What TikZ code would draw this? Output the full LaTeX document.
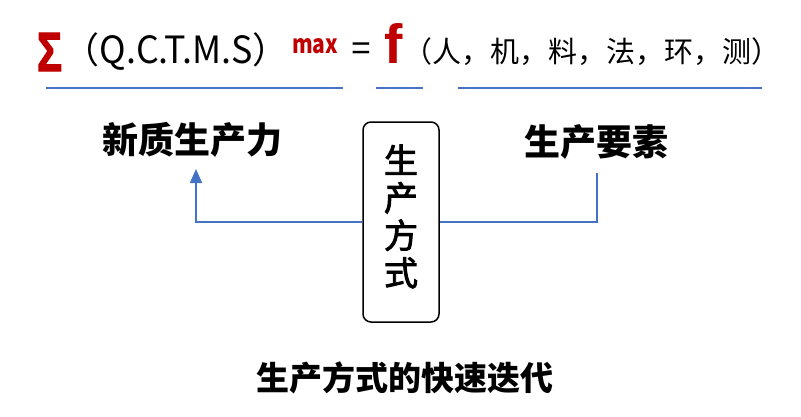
\documentclass[tikz,border=0pt]{standalone}
\usepackage{fontspec}
\setmainfont{Liberation Sans}
\newfontfamily\cjk{Noto Sans CJK SC}
\newfontfamily\cjkfb[FakeBold=2.5]{Noto Sans CJK SC}
\newfontfamily\sigfont[FakeBold=2.5]{Liberation Sans Bold}
\usetikzlibrary{arrows.meta}
\definecolor{dred}{HTML}{C00000}
\definecolor{lblue}{HTML}{4472C4}
\tikzset{
  lbl/.style={inner sep=0pt, outer sep=0pt},
  uline/.style={draw=lblue, line width=1.5pt},
  conn/.style={draw=lblue, line width=1.8pt},
  modebox/.style={draw=black, line width=1.5pt, rounded corners=8pt, minimum width=76pt, minimum height=200pt, inner sep=0pt},
  headtxt/.style={lbl, font=\cjk\bfseries\fontsize{36}{36}\selectfont},
}
\begin{document}
\begin{tikzpicture}[x=1pt,y=-1pt]
\useasboundingbox (0,0) rectangle (801,416);
% formula row
\node[lbl, text=dred, anchor=base] (sig) at (49.5,71) {\resizebox{25pt}{38pt}{\sigfont Σ}};
\node[lbl, anchor=base] (qctms) at (176,63) {\cjk\fontsize{36}{36}\selectfont （\resizebox{153pt}{28pt}{Q.C.T.M.S}）};
\node[lbl, text=dred, anchor=base west] (max) at (292,53) {\resizebox{46pt}{15pt}{\cjk\bfseries max}};
\node[lbl, anchor=center] (eq) at (361,51) {\fontsize{34}{34}\selectfont =};
\node[lbl, text=dred, anchor=base] (f) at (394,63) {\resizebox{!}{40pt}{\bfseries f}};
\node[lbl] (args) at (592,52) {\cjk\fontsize{29}{29}\selectfont （人，机，料，法，环，测）};
% underlines
\coordinate (u1a) at (46,88);  \coordinate (u1b) at (343,88);
\coordinate (u2a) at (376,88); \coordinate (u2b) at (423,88);
\coordinate (u3a) at (458,88); \coordinate (u3b) at (762,88);
\draw[uline] (u1a) -- (u1b);
\draw[uline] (u2a) -- (u2b);
\draw[uline] (u3a) -- (u3b);
% middle
\node[headtxt] (xzsc) at (192,140) {新质生产力};
\node[headtxt] (scys) at (596,142) {生产要素};
\node[modebox] (box) at (401,222) {};
\node[lbl, align=center, font=\cjkfb\fontsize{34}{37.5}\selectfont] (boxtxt) at (401,216.5) {生\\产\\方\\式};
\coordinate (tipL) at (196,169);
\coordinate (topR) at (597,173);
\draw[conn, -{Triangle[length=14pt,width=12pt]}] (box.west) -| (tipL);
\draw[conn] (box.east) -| (topR);
% caption
\node[lbl, font=\cjk\bfseries\fontsize{33}{33}\selectfont] (cap) at (405,378) {生产方式的快速迭代};
\end{tikzpicture}
\end{document}
